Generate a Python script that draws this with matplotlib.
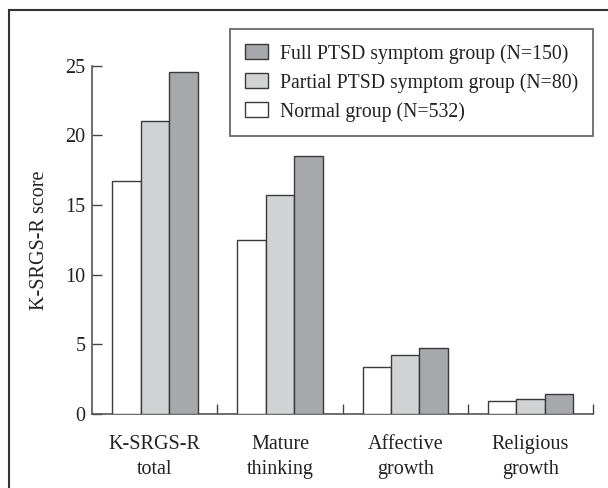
import matplotlib
matplotlib.use("Agg")
import matplotlib.pyplot as plt
import numpy as np
from matplotlib.patches import Rectangle

categories = ["K-SRGS-R\ntotal", "Mature\nthinking", "Affective\ngrowth", "Religious\ngrowth"]
series_names = ["Normal group (N=532)", "Partial PTSD symptom group (N=80)", "Full PTSD symptom group (N=150)"]
normal = [16.7, 12.5, 3.4, 0.9]
partial = [21.0, 15.75, 4.2, 1.1]
full = [24.55, 18.5, 4.75, 1.4]
yticks = [0, 5, 10, 15, 20, 25]

colors = ["#ffffff", "#d2d3d5", "#a7a8ab"]
edge = "#3a3a3a"

plt.rcParams['font.family'] = ['Liberation Serif', 'DejaVu Serif']
FS = 14.5

W, H = 608, 488
fig = plt.figure(figsize=(W/100, H/100), dpi=100)
ax = fig.add_axes([92.3/W, 1-414/H, (593-92.3)/W, (414-65.7)/H])

x = np.arange(len(categories))
w = 0.227
bars = []
for i, (vals, name) in enumerate(zip([normal, partial, full], series_names)):
    b = ax.bar(x + (i-1)*w, vals, width=w, color=colors[i], edgecolor=edge,
               linewidth=1.0, label=name, zorder=3)
    bars.append(b)

ax.set_xlim(-0.5, len(categories)-0.5)
ax.set_ylim(0, 25)
ax.set_yticks(yticks)
ax.set_yticklabels([str(t) for t in yticks], fontsize=FS, color="#222222")
ax.tick_params(axis='y', direction='in', length=7, width=1, color="#444444", pad=5)

ax.set_xticks(x)
ax.set_xticklabels(categories, fontsize=FS, color="#222222", linespacing=1.45)
ax.tick_params(axis='x', which='major', length=0, pad=15)
ax.set_xticks(np.arange(len(categories)) + 0.5, minor=True)
ax.tick_params(axis='x', which='minor', direction='in', length=7, width=1, color="#444444")

for s in ['top', 'right']:
    ax.spines[s].set_visible(False)
for s in ['left', 'bottom']:
    ax.spines[s].set_color("#555555")
    ax.spines[s].set_linewidth(1.2)

ax.set_ylabel("K-SRGS-R score", fontsize=FS, color="#222222")
ax.yaxis.set_label_coords((49-92.3)/(593-92.3), 0.5)

handles = [bars[2], bars[1], bars[0]]
labels = [series_names[2], series_names[1], series_names[0]]
leg = ax.legend(handles, labels, loc='upper left',
                bbox_to_anchor=(230/W, 1-29/H), bbox_transform=fig.transFigure,
                fontsize=14.2, frameon=True, fancybox=False, borderpad=0.75,
                handlelength=1.2, handleheight=0.82, handletextpad=0.6,
                labelspacing=0.47, borderaxespad=0)
leg.get_frame().set_edgecolor("#444444")
leg.get_frame().set_linewidth(1.3)
for t in leg.get_texts():
    t.set_color("#222222")

# outer frame
fig.patches.append(Rectangle((9.3/W, -0.1), 1.2, 1-10/H+0.1, transform=fig.transFigure,
                             fill=False, edgecolor="#333333", linewidth=1.5))

fig.savefig("out.png", dpi=100)
